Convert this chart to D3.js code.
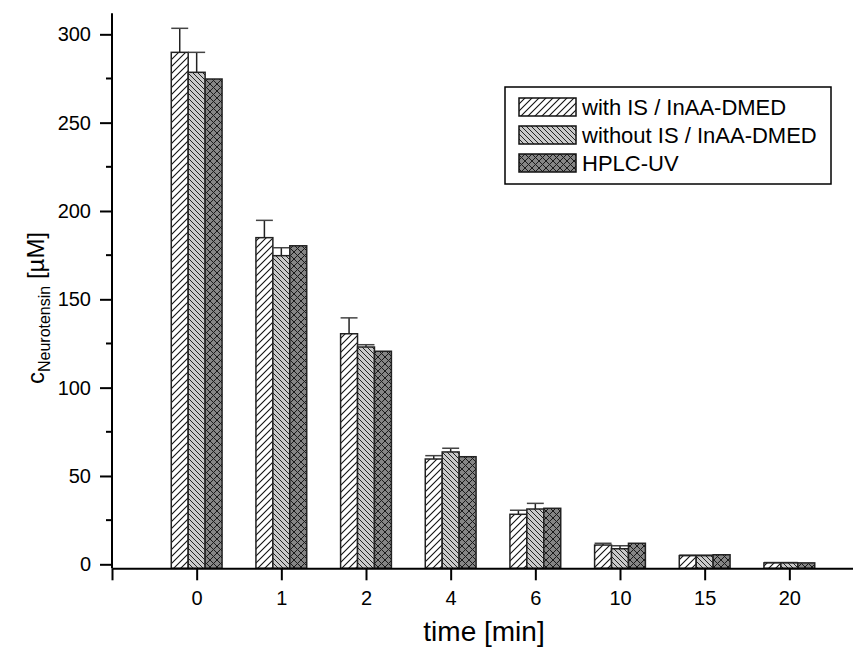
<!DOCTYPE html>
<html>
<head>
<meta charset="utf-8">
<script src="https://cdn.jsdelivr.net/npm/d3@7"></script>
<style>
  html, body { margin: 0; padding: 0; background: #fff; }
  svg { display: block; font-family: "Liberation Sans", Arial, sans-serif; }
</style>
</head>
<body>
<svg id="chart" width="853" height="653"></svg>
<script>
// Sampling times (min)
const categories = ["0", "1", "2", "4", "6", "10", "15", "20"];
const seriesNames = ["with IS / InAA-DMED", "without IS / InAA-DMED", "HPLC-UV"];
// Neurotensin concentration (µM)
const withIS    = [289.8, 184.9, 130.5, 59.6, 28.3, 10.9, 4.9, 0.8];
const withoutIS = [278.5, 174.7, 123.0, 63.6, 31.3,  8.8, 4.9, 0.8];
const hplcUV    = [274.7, 180.3, 120.6, 60.9, 31.7, 11.9, 5.4, 0.8];
// Upper error (standard deviation), HPLC-UV has none
const withISErr    = [13.6, 9.8, 9.0, 1.9, 2.3, 1.0, 0.3, 0.2];
const withoutISErr = [11.3, 4.5, 1.3, 2.1, 3.2, 1.7, 0.3, 0.2];
const yTicks = [0, 50, 100, 150, 200, 250, 300];
const yMinorTicks = [25, 75, 125, 175, 225, 275];

const series = [
  { name: seriesNames[0], values: withIS, err: withISErr, fill: "url(#hatchFwd)" },
  { name: seriesNames[1], values: withoutIS, err: withoutISErr, fill: "url(#hatchBack)" },
  { name: seriesNames[2], values: hplcUV, err: null, fill: "url(#hatchCross)" }
];

const svg = d3.select("#chart");

// hatch patterns
const defs = svg.append("defs");
const p1 = defs.append("pattern").attr("id", "hatchFwd").attr("patternUnits", "userSpaceOnUse")
  .attr("width", 7).attr("height", 7);
p1.append("rect").attr("width", 7).attr("height", 7).attr("fill", "#ffffff");
p1.append("path").attr("d", "M-1,8 L8,-1 M-2,2 L2,-2 M5,9 L9,5").attr("stroke", "#111").attr("stroke-width", 1.1);

const p2 = defs.append("pattern").attr("id", "hatchBack").attr("patternUnits", "userSpaceOnUse")
  .attr("width", 5).attr("height", 5);
p2.append("rect").attr("width", 5).attr("height", 5).attr("fill", "#c9c9c9");
p2.append("path").attr("d", "M-1,-1 L6,6 M-2,3 L2,7 M3,-2 L7,2").attr("stroke", "#222").attr("stroke-width", 1);

const p3 = defs.append("pattern").attr("id", "hatchCross").attr("patternUnits", "userSpaceOnUse")
  .attr("width", 7).attr("height", 7);
p3.append("rect").attr("width", 7).attr("height", 7).attr("fill", "#858585");
p3.append("path").attr("d", "M-1,-1 L8,8 M-1,8 L8,-1").attr("stroke", "#1a1a1a").attr("stroke-width", 1);

// scales
const x = d3.scaleLinear().domain([-1, 8]).range([112, 874]);
const y = d3.scaleLinear().domain([-2.26, 311.9]).range([568.3, 13.3]);
const barW = 0.2;

const bars = svg.append("g");
series.forEach((s, si) => {
  const off = (si - 1) * barW;
  s.values.forEach((v, i) => {
    const x0 = x(i + off - barW / 2), x1 = x(i + off + barW / 2);
    if (s.err) {
      const yt = y(v + s.err[i]);
      bars.append("line").attr("x1", (x0 + x1) / 2).attr("x2", (x0 + x1) / 2)
        .attr("y1", y(v)).attr("y2", yt).attr("stroke", "#222").attr("stroke-width", 1.5);
      bars.append("line").attr("x1", x0).attr("x2", x1)
        .attr("y1", yt).attr("y2", yt).attr("stroke", "#444").attr("stroke-width", 1.5);
    }
    bars.append("rect")
      .attr("x", x0).attr("width", x1 - x0)
      .attr("y", y(v)).attr("height", y.range()[0] - y(v))
      .attr("fill", s.fill).attr("stroke", "#222").attr("stroke-width", 1.5);
  });
});

// y axis
const yAxis = svg.append("g").attr("transform", "translate(112,0)")
  .call(d3.axisLeft(y).tickValues(yTicks).tickSize(12).tickPadding(9).tickSizeOuter(0));
yAxis.select(".domain").remove();
yAxis.selectAll(".tick line").attr("stroke-width", 2);
yAxis.selectAll("text").attr("font-size", 20).attr("fill", "#000");
svg.append("g").selectAll("line").data(yMinorTicks).join("line")
  .attr("x1", 106).attr("x2", 112).attr("y1", d => y(d)).attr("y2", d => y(d))
  .attr("stroke", "#000").attr("stroke-width", 2);
svg.append("line").attr("x1", 112).attr("x2", 112).attr("y1", y.range()[1]).attr("y2", y.range()[0])
  .attr("stroke", "#000").attr("stroke-width", 2);

// x axis
const xTickIdx = d3.range(-1, 9);
const xAxis = svg.append("g").attr("transform", `translate(0,${y.range()[0]})`)
  .call(d3.axisBottom(x).tickValues(xTickIdx).tickSize(12).tickPadding(11).tickSizeOuter(0)
    .tickFormat(d => (d >= 0 && d < categories.length) ? categories[d] : ""));
xAxis.select(".domain").attr("stroke-width", 2);
xAxis.selectAll(".tick line").attr("stroke-width", 2);
xAxis.selectAll("text").attr("font-size", 20).attr("fill", "#000");

// axis titles
svg.append("text").attr("x", 484).attr("y", 641).attr("text-anchor", "middle")
  .attr("font-size", 28).text("time [min]");
const yt = svg.append("text").attr("transform", "translate(44,308) rotate(-90)")
  .attr("text-anchor", "middle").attr("font-size", 24);
yt.append("tspan").text("c");
yt.append("tspan").attr("font-size", 16).attr("dy", 6).text("Neurotensin");
yt.append("tspan").attr("dy", -6).text(" [µM]");

// legend
const lg = svg.append("g");
lg.append("rect").attr("x", 505).attr("y", 87).attr("width", 326).attr("height", 97)
  .attr("fill", "#fff").attr("stroke", "#000").attr("stroke-width", 1.5);
series.forEach((s, i) => {
  const ry = 98 + i * 28;
  lg.append("rect").attr("x", 519).attr("y", ry).attr("width", 57).attr("height", 18)
    .attr("fill", s.fill).attr("stroke", "#111").attr("stroke-width", 1.5);
  lg.append("text").attr("x", 582).attr("y", ry + 17).attr("font-size", 22).text(s.name);
});
</script>
</body>
</html>
